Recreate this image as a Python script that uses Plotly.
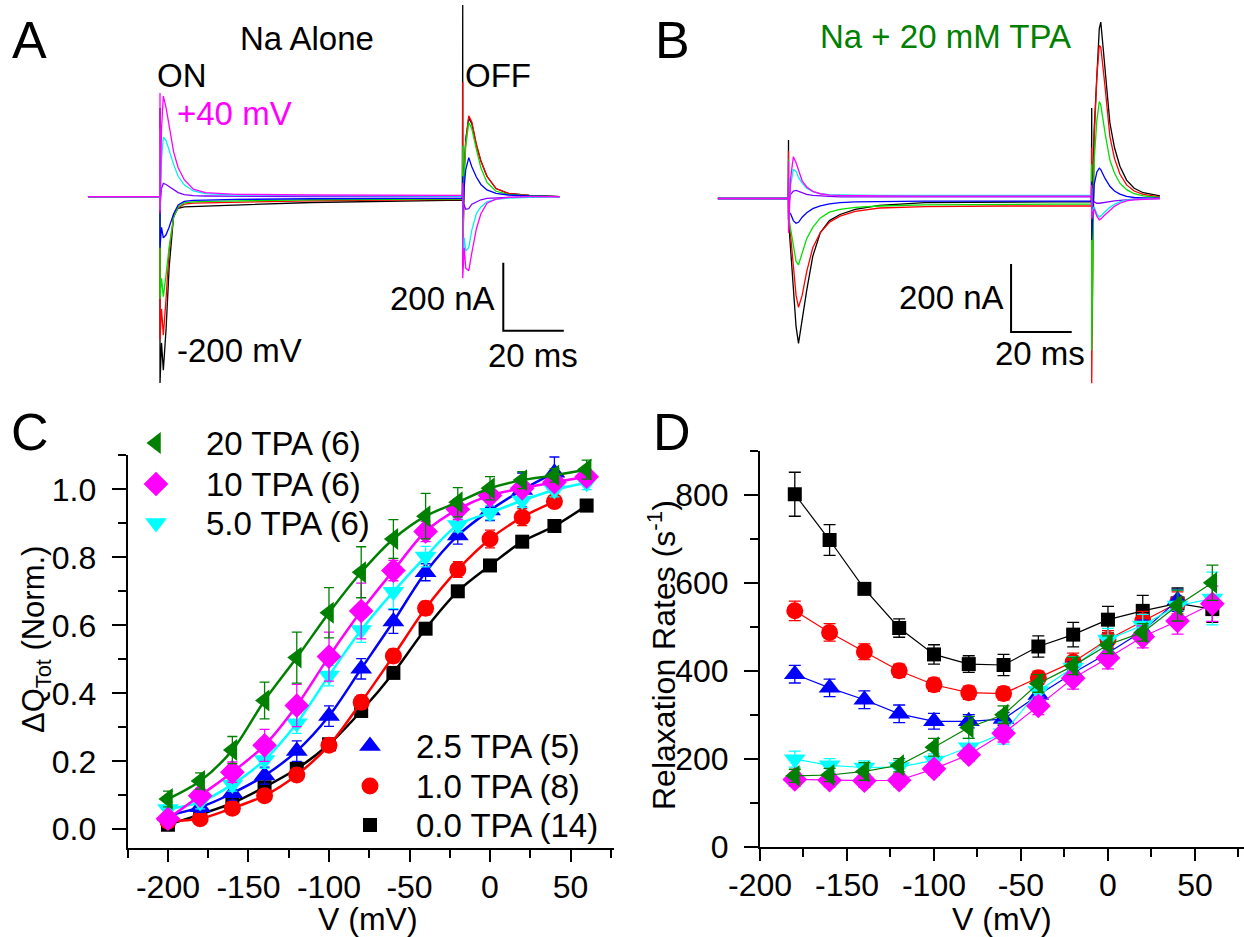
import plotly.graph_objects as go

W, H = 1244, 937
FONT = "Arial, Liberation Sans, sans-serif"

# ------------------------------------------------------------------
# Panels A and B : current traces (time in ms, current in nA)
# time grids relative to the ON step (0 ms) and OFF step (100 ms)
# ------------------------------------------------------------------
PULSE_MS = 100.0
A_PRE_T = [-23.8, -0.05]
A_ON_T = [0, 0, 0.5, 1.1, 2, 3, 4.5, 6, 8, 11, 15, 25, 50, 99.9]
A_OFF_T = [0, 0, 0.5, 1, 2, 3, 4.5, 6, 8, 11, 15, 22, 32]

A_black_on = [261, -548, -430, -510, -390, -210, -55, -34, -30, -29, -28, -24, -17, -10]
A_red_on = [200, -420, -330, -407, -300, -160, -60, -32, -22, -19, -18, -16, -12, -8]
A_green_on = [150, -300, -240, -294, -230, -150, -60, -30, -18, -15, -14, -12, -9, -6]
A_blue_on = [100, -150, -90, -121, -112, -90, -50, -24, -14, -11, -10, -8, -6, -4]
A_violet_on = [60, -30, 25, 39, 36, 30, 20, 12, 6, 3, 2, 1, 0, 0]
A_cyan_on = [200, -40, 110, 175, 165, 136, 95, 60, 35, 17, 9, 5, 3, 2]
A_magenta_on = [305, -49, 200, 296, 262, 210, 132, 85, 50, 22, 12, 7, 5, 4]

A_black_off = [564, -201, 78, 167, 231, 215, 150, 105, 60, 24, 10, 4, 0]
A_red_off = [337, -207, 75, 165, 238, 220, 155, 105, 60, 24, 10, 4, 0]
A_green_off = [150, -150, 70, 150, 218, 200, 140, 85, 42, 16, 7, 3, 0]
A_blue_off = [60, -60, 30, 80, 115, 88, 58, 36, 20, 10, 5, 2, 0]
A_violet_off = [20, -30, -25, -37, -35, -22, -15, -9, -5, -3, -2, -1, 0]
A_cyan_off = [30, -190, -120, -160, -150, -98, -50, -30, -15, -8, -4, -2, 0]
A_magenta_off = [40, -240, -150, -210, -218, -165, -95, -50, -19, -7, -2, 0, 0]

B_PRE_T = [-23.3, -0.05]
B_ON_T = [0, 0, 0.7, 1.6, 2.5, 3.3, 4.5, 6, 8, 10.5, 13.5, 17, 22, 30, 45, 70, 99.9]
B_OFF_T = [0, 0, 0.8, 1.7, 2.5, 3.0, 4.4, 6, 7.5, 9.3, 11.5, 14, 17, 22.5]

B_black_on = [172, -60, -150, -259, -377, -426, -355, -270, -170, -100, -65, -47, -32, -20, -12, -10, -9]
B_red_on = [140, -60, -110, -190, -285, -320, -285, -215, -145, -100, -70, -52, -38, -28, -24, -22, -22]
B_green_on = [115, -50, -90, -140, -185, -195, -160, -118, -85, -57, -40, -32, -26, -22, -19, -17, -16]
B_blue_on = [60, -40, -45, -65, -73, -70, -55, -42, -30, -22, -16, -12, -10, -9, -8, -8, -7]
B_violet_on = [30, -20, 12, 22, 24, 21, 16, 12, 9, 7, 6, 5, 5, 5, 5, 5, 5]
B_cyan_on = [60, -60, 40, 85, 80, 62, 45, 30, 20, 14, 11, 10, 10, 9, 9, 9, 9]
B_magenta_on = [110, -101, 60, 123, 105, 82, 52, 34, 21, 14, 10, 9, 8, 8, 7, 7, 7]

B_black_off = [266, -100, 200, 380, 500, 519, 388, 222, 150, 95, 54, 30, 17, 8]
B_red_off = [150, -543, 170, 360, 450, 445, 329, 182, 118, 72, 40, 22, 12, 5]
B_green_off = [100, -446, 110, 230, 285, 275, 192, 113, 75, 45, 26, 14, 8, 3]
B_blue_off = [50, -122, 40, 78, 89, 85, 59, 36, 22, 13, 6, 3, 2, 1]
B_violet_off = [20, -20, -10, -14, -14, -13, -11, -9, -7, -5, -3, -2, -1, 0]
B_cyan_off = [30, -40, -25, -45, -54, -52, -39, -26, -17, -10, -5, -3, -2, 0]
B_magenta_off = [40, -60, -30, -52, -63, -60, -48, -34, -23, -14, -7, -4, -2, 0]

TRACE_COLORS = ["#000000", "#ff0000", "#00e000", "#0000ff", "#8000ff", "#00f0f0", "#ff00ff"]
A_ON = [A_black_on, A_red_on, A_green_on, A_blue_on, A_violet_on, A_cyan_on, A_magenta_on]
A_OFF = [A_black_off, A_red_off, A_green_off, A_blue_off, A_violet_off, A_cyan_off, A_magenta_off]
B_ON = [B_black_on, B_red_on, B_green_on, B_blue_on, B_violet_on, B_cyan_on, B_magenta_on]
B_OFF = [B_black_off, B_red_off, B_green_off, B_blue_off, B_violet_off, B_cyan_off, B_magenta_off]

SCALE_I = 200   # nA
SCALE_T = 20    # ms

# ------------------------------------------------------------------
# Panel C : normalized charge vs voltage
# ------------------------------------------------------------------
V_C = [-200, -180, -160, -140, -120, -100, -80, -60, -40, -20, 0, 20, 40, 60]
C_tpa0 = [0.013, 0.044, 0.077, 0.124, 0.178, 0.25, 0.348, 0.46, 0.59, 0.70, 0.776, 0.846, 0.892, 0.952]
C_tpa0_err = [0.01, 0.01, 0.01, 0.01, 0.012, 0.012, 0.012, 0.012, 0.012, 0.012, 0.012, 0.012, 0.012, 0.012]
C_tpa1 = [0.024, 0.031, 0.062, 0.099, 0.16, 0.247, 0.374, 0.51, 0.65, 0.764, 0.854, 0.918, 0.964]
C_tpa1_err = [0.01, 0.01, 0.01, 0.015, 0.015, 0.015, 0.02, 0.02, 0.02, 0.023, 0.026, 0.025, 0.015]
C_tpa25 = [0.04, 0.065, 0.106, 0.158, 0.23, 0.333, 0.472, 0.611, 0.756, 0.864, 0.938, 0.998, 1.049]
C_tpa25_err = [0.02, 0.015, 0.02, 0.025, 0.03, 0.03, 0.03, 0.035, 0.025, 0.025, 0.03, 0.05, 0.046]
C_tpa5 = [0.06, 0.08, 0.132, 0.204, 0.312, 0.452, 0.586, 0.699, 0.802, 0.895, 0.931, 0.967, 0.998, 1.019]
C_tpa5_err = [0.02, 0.02, 0.02, 0.025, 0.03, 0.03, 0.036, 0.05, 0.03, 0.02, 0.02, 0.02, 0.02, 0.02]
C_tpa10 = [0.031, 0.099, 0.168, 0.247, 0.364, 0.508, 0.642, 0.761, 0.876, 0.941, 0.982, 1.003, 1.021, 1.037]
C_tpa10_err = [0.015, 0.02, 0.03, 0.047, 0.062, 0.072, 0.082, 0.03, 0.03, 0.03, 0.02, 0.02, 0.02, 0.02]
C_tpa20 = [0.089, 0.142, 0.233, 0.379, 0.505, 0.637, 0.756, 0.854, 0.921, 0.962, 1.003, 1.027, 1.041, 1.058]
C_tpa20_err = [0.023, 0.024, 0.04, 0.054, 0.075, 0.074, 0.075, 0.057, 0.067, 0.043, 0.034, 0.025, 0.02, 0.028]

# ------------------------------------------------------------------
# Panel D : relaxation rates vs voltage
# ------------------------------------------------------------------
V_D = [-180, -160, -140, -120, -100, -80, -60, -40, -20, 0, 20, 40, 60]
D_tpa0 = [801, 697, 586, 497, 437, 415, 413, 455, 482, 516, 536, 553, 540]
D_tpa0_err = [50, 35, 12, 21, 22, 19, 24, 24, 28, 30, 35, 35, 30]
D_tpa1 = [536, 487, 443, 400, 368, 350, 348, 384, 420, 471, 513, 554]
D_tpa1_err = [22, 20, 18, 15, 15, 15, 15, 15, 20, 20, 22, 25]
D_tpa25 = [392, 361, 334, 302, 285, 285, 290, 345, 395, 440, 490, 560]
D_tpa25_err = [20, 20, 20, 20, 18, 15, 15, 30, 25, 20, 25, 25]
D_tpa5 = [199, 185, 180, 181, 196, 226, 258, 354, 407, 471, 503, 548, 564]
D_tpa5_err = [18, 15, 15, 15, 15, 20, 25, 20, 25, 25, 25, 35, 60]
D_tpa10 = [153, 151, 150, 151, 177, 209, 258, 320, 383, 429, 477, 513, 552]
D_tpa10_err = [15, 15, 15, 15, 15, 15, 20, 20, 25, 25, 25, 30, 40]
D_tpa20 = [161, 163, 171, 185, 226, 271, 300, 371, 411, 459, 487, 548, 600]
D_tpa20_err = [15, 15, 20, 15, 20, 25, 20, 20, 20, 20, 20, 35, 40]

SERIES_LABELS = ["0.0 TPA (14)", "1.0 TPA (8)", "2.5 TPA (5)", "5.0 TPA (6)", "10 TPA (6)", "20 TPA (6)"]
SERIES_COLORS = ["#000000", "#ff0000", "#0000ff", "#00ffff", "#ff00ff", "#008000"]
SERIES_SYMBOLS = ["square", "circle", "triangle-up", "triangle-down", "diamond", "triangle-left"]
SERIES_SIZES = [14, 17, 19, 19, 19, 19]

C_SERIES = [(C_tpa0, C_tpa0_err), (C_tpa1, C_tpa1_err), (C_tpa25, C_tpa25_err),
            (C_tpa5, C_tpa5_err), (C_tpa10, C_tpa10_err), (C_tpa20, C_tpa20_err)]
D_SERIES = [(D_tpa0, D_tpa0_err), (D_tpa1, D_tpa1_err), (D_tpa25, D_tpa25_err),
            (D_tpa5, D_tpa5_err), (D_tpa10, D_tpa10_err), (D_tpa20, D_tpa20_err)]

# ------------------------------------------------------------------
fig = go.Figure()


def px(x):
    return x / W


def py(y):
    return 1 - y / H


def build_trace(pre_t, on_t, off_t, on_v, off_v):
    t = list(pre_t) + list(on_t) + [PULSE_MS + v for v in off_t]
    i = [0, 0] + list(on_v) + list(off_v)
    return t, i


for xa, ya, pre_t, on_t, off_t, ons, offs in [
    ("x", "y", A_PRE_T, A_ON_T, A_OFF_T, A_ON, A_OFF),
    ("x2", "y2", B_PRE_T, B_ON_T, B_OFF_T, B_ON, B_OFF),
]:
    for col, on_v, off_v in zip(TRACE_COLORS, ons, offs):
        t, i = build_trace(pre_t, on_t, off_t, on_v, off_v)
        fig.add_trace(go.Scatter(x=t, y=i, mode="lines", line=dict(color=col, width=1.3),
                                 xaxis=xa, yaxis=ya, showlegend=False, hoverinfo="skip"))

# scale bars
for xa, ya, t0, i0 in [("x", "y", 113.4, -394.0), ("x2", "y2", 73.4, -392.6)]:
    fig.add_trace(go.Scatter(x=[t0, t0, t0 + SCALE_T], y=[i0 + SCALE_I, i0, i0], mode="lines",
                             line=dict(color="black", width=2), xaxis=xa, yaxis=ya,
                             showlegend=False, hoverinfo="skip"))

# Panel C
for (vals, err), col, sym, sz in zip(C_SERIES, SERIES_COLORS, SERIES_SYMBOLS, SERIES_SIZES):
    v = V_C[:len(vals)]
    fig.add_trace(go.Scatter(x=v, y=vals, mode="lines",
                             line=dict(color=col, width=2.5, shape="spline", smoothing=0.9),
                             xaxis="x3", yaxis="y3", showlegend=False))
    fig.add_trace(go.Scatter(x=v, y=vals, mode="markers",
                             marker=dict(symbol=sym, size=sz, color=col),
                             error_y=dict(type="data", array=err, color=col, thickness=1.3, width=5),
                             xaxis="x3", yaxis="y3", showlegend=False))

# Panel D
for (vals, err), col, sym, sz in zip(D_SERIES, SERIES_COLORS, SERIES_SYMBOLS, SERIES_SIZES):
    v = V_D[:len(vals)]
    fig.add_trace(go.Scatter(x=v, y=vals, mode="lines+markers",
                             line=dict(color=col, width=1.2),
                             marker=dict(symbol=sym, size=sz, color=col),
                             error_y=dict(type="data", array=err, color=col, thickness=1.3, width=6),
                             xaxis="x4", yaxis="y4", showlegend=False))

# legend keys for panel C (pixel-based layout axis)
LEG_TOP = [(5, 443), (4, 484), (3, 523)]
LEG_BOT = [(2, 746), (1, 786), (0, 825)]
annotations = []
for rows, mx, tx in [(LEG_TOP, 156, 204), (LEG_BOT, 370, 414)]:
    for idx, yy in rows:
        fig.add_trace(go.Scatter(x=[mx], y=[yy], mode="markers",
                                 marker=dict(symbol=SERIES_SYMBOLS[idx], size=SERIES_SIZES[idx],
                                             color=SERIES_COLORS[idx]),
                                 xaxis="x5", yaxis="y5", showlegend=False, hoverinfo="skip"))
        annotations.append(dict(x=px(tx), y=py(yy), xref="paper", yref="paper", text=SERIES_LABELS[idx],
                                showarrow=False, xanchor="left", yanchor="middle",
                                font=dict(size=33, color="black", family=FONT)))


def ann(text, x, y, size=33, color="black", xanchor="center", angle=0):
    annotations.append(dict(x=px(x), y=py(y), xref="paper", yref="paper", text=text, showarrow=False,
                            xanchor=xanchor, yanchor="middle", textangle=angle,
                            font=dict(size=size, color=color, family=FONT)))


ann("A", 30, 40, 52)
ann("B", 672, 40, 52)
ann("C", 30, 432, 52)
ann("D", 672, 432, 52)
ann("Na Alone", 307, 38)
ann("ON", 182, 75)
ann("OFF", 498, 75)
ann("+40 mV", 234, 113, color="#ff00ff")
ann("-200 mV", 239, 350)
ann("200 nA", 497, 298, xanchor="right")
ann("20 ms", 533, 355)
ann("Na + 20 mM TPA", 946, 37, color="#008000")
ann("200 nA", 1006, 297, xanchor="right")
ann("20 ms", 1040, 353)
ann("V (mV)", 368, 919, size=32)
ann("V (mV)", 1002, 919, size=32)
ann("ΔQ<sub>Tot</sub> (Norm.)", 36, 640, size=31, angle=-90)
ann("Relaxation Rates (s<sup>-1</sup>)", 662, 655, size=32, angle=-90)

hidden = dict(visible=False, showgrid=False, zeroline=False, fixedrange=True, automargin=False)
common = dict(showline=True, linewidth=2, linecolor="black", ticks="outside", tickwidth=2,
              tickcolor="black", showgrid=False, zeroline=False, mirror=False, automargin=False,
              tickfont=dict(size=32, color="black", family=FONT))

fig.update_layout(
    width=W, height=H, autosize=False,
    margin=dict(l=0, r=0, t=0, b=0, pad=0, autoexpand=False),
    paper_bgcolor="white", plot_bgcolor="rgba(0,0,0,0)",
    showlegend=False,
    xaxis=dict(domain=[px(80), px(580)], range=[-26.43, 138.74], anchor="y", **hidden),
    yaxis=dict(domain=[py(400), py(0)], range=[-597.9, 578.5], anchor="x", **hidden),
    xaxis2=dict(domain=[px(700), px(1180)], range=[-29.19, 129.12], anchor="y2", **hidden),
    yaxis2=dict(domain=[py(400), py(0)], range=[-592.6, 583.8], anchor="x2", **hidden),
    xaxis3=dict(domain=[px(127.7), px(614)], range=[-225, 77], anchor="y3",
                tickvals=[-200, -150, -100, -50, 0, 50], ticktext=["-200", "-150", "-100", "-50", "0", "50"],
                ticklen=12, ticklabelstandoff=-3,
                minor=dict(tickvals=[-225, -175, -125, -75, -25, 25, 75], ticks="outside", ticklen=8,
                           tickwidth=2, tickcolor="black"),
                **common),
    yaxis3=dict(domain=[py(848.3), py(455.3)], range=[-0.0559, 1.1], anchor="x3",
                tickvals=[0, 0.2, 0.4, 0.6, 0.8, 1.0], ticktext=["0.0", "0.2", "0.4", "0.6", "0.8", "1.0"],
                ticklen=14, ticklabelstandoff=9,
                minor=dict(tickvals=[0.1, 0.3, 0.5, 0.7, 0.9, 1.1], ticks="outside", ticklen=8,
                           tickwidth=2, tickcolor="black"),
                **common),
    xaxis4=dict(domain=[px(760), px(1244)], range=[-200, 78.2], anchor="y4",
                tickvals=[-200, -150, -100, -50, 0, 50], ticktext=["-200", "-150", "-100", "-50", "0", "50"],
                ticklen=12, ticklabelstandoff=-3,
                minor=dict(tickvals=[-175, -125, -75, -25, 25, 75], ticks="outside", ticklen=8,
                           tickwidth=2, tickcolor="black"),
                **common),
    yaxis4=dict(domain=[py(846.7), py(450.7)], range=[0, 900], anchor="x4",
                tickvals=[0, 200, 400, 600, 800], ticktext=["0", "200", "400", "600", "800"],
                ticklen=14, ticklabelstandoff=9,
                minor=dict(tickvals=[100, 300, 500, 700, 900], ticks="outside", ticklen=8,
                           tickwidth=2, tickcolor="black"),
                **common),
    xaxis5=dict(domain=[0, 1], range=[0, W], anchor="y5", **hidden),
    yaxis5=dict(domain=[0, 1], range=[H, 0], anchor="x5", **hidden),
    annotations=annotations,
)

fig.write_html("out.html")
